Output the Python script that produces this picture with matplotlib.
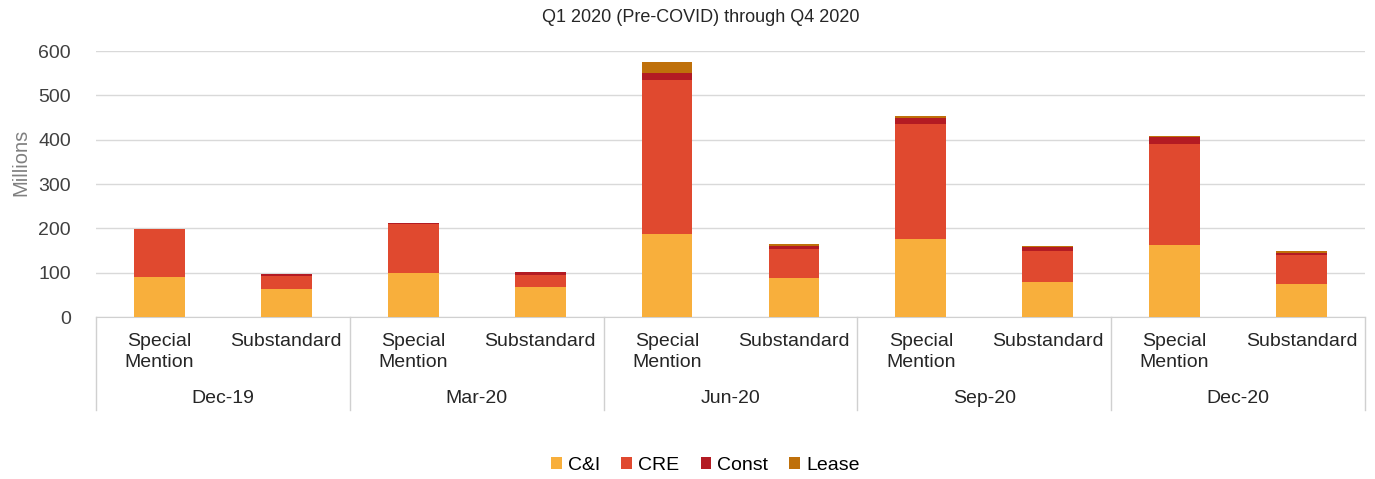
import matplotlib
matplotlib.use("Agg")
import matplotlib.pyplot as plt
import numpy as np

plt.rcParams["font.family"] = ["Liberation Sans", "DejaVu Sans"]

quarters = ["Dec-19", "Mar-20", "Jun-20", "Sep-20", "Dec-20"]
grades = ["Special\nMention", "Substandard"]

# values in millions, order: (SM, Sub) per quarter
ci = [90, 64, 100, 68, 187, 88, 175, 79, 163, 74]
cre = [108, 29, 110, 28, 347, 66, 260, 71, 228, 65]
const = [1, 4, 2, 5, 17, 6, 15, 8, 15, 6]
lease = [0.5, 0.5, 1, 1, 25, 4, 3, 3, 3, 4]

series = [("C&I", ci, "#F8AF3C"), ("CRE", cre, "#E0492F"),
          ("Const", const, "#B31B23"), ("Lease", lease, "#BF700A")]

fig = plt.figure(figsize=(13.75, 4.79), dpi=100)
ax = fig.add_axes([0.0698, 0.338, 0.9229, 0.5555])

x = np.arange(len(ci))
bottom = np.zeros(len(ci))
for name, vals, col in series:
    ax.bar(x, vals, width=0.4, bottom=bottom, color=col, label=name, zorder=3)
    bottom += np.array(vals)

ax.set_xlim(-0.5, len(ci) - 0.5)
ax.set_ylim(0, 600)
ax.set_yticks(range(0, 601, 100))
ax.tick_params(axis="y", length=0, labelsize=14, colors="#404040", pad=18)
ax.grid(axis="y", color="#d9d9d9", linewidth=1, zorder=0)
for s in ["top", "right", "left"]:
    ax.spines[s].set_visible(False)
ax.spines["bottom"].set_color("#d0d0d0")
ax.set_ylabel("Millions", fontsize=14.5, color="#808080")
ax.yaxis.set_label_coords(-0.052, 0.58)

# two-level category axis
ax.set_xticks(x)
ax.set_xticklabels([])
ax.tick_params(axis="x", length=0)
for i in x:
    ax.text(i, -0.06, grades[i % 2], transform=ax.get_xaxis_transform(),
            ha="center", va="top", fontsize=14, color="#262626", linespacing=1.3)
for q, name in enumerate(quarters):
    ax.text(2 * q + 0.5, -0.305, name, transform=ax.get_xaxis_transform(),
            ha="center", va="center", fontsize=14, color="#262626")
for b in np.arange(-0.5, len(ci), 2):
    ax.plot([b, b], [0, -0.35], transform=ax.get_xaxis_transform(),
            color="#d0d0d0", linewidth=1, clip_on=False)

fig.text(0.51, 0.963, "Q1 2020 (Pre-COVID) through Q4 2020",
         ha="center", va="center", fontsize=13, color="#262626")

fig.legend(loc="center", bbox_to_anchor=(0.513, 0.028), ncol=4, frameon=False,
           fontsize=14, handlelength=0.55, handleheight=0.55,
           handletextpad=0.3, columnspacing=1.1)

fig.savefig("out.png", dpi=100)
